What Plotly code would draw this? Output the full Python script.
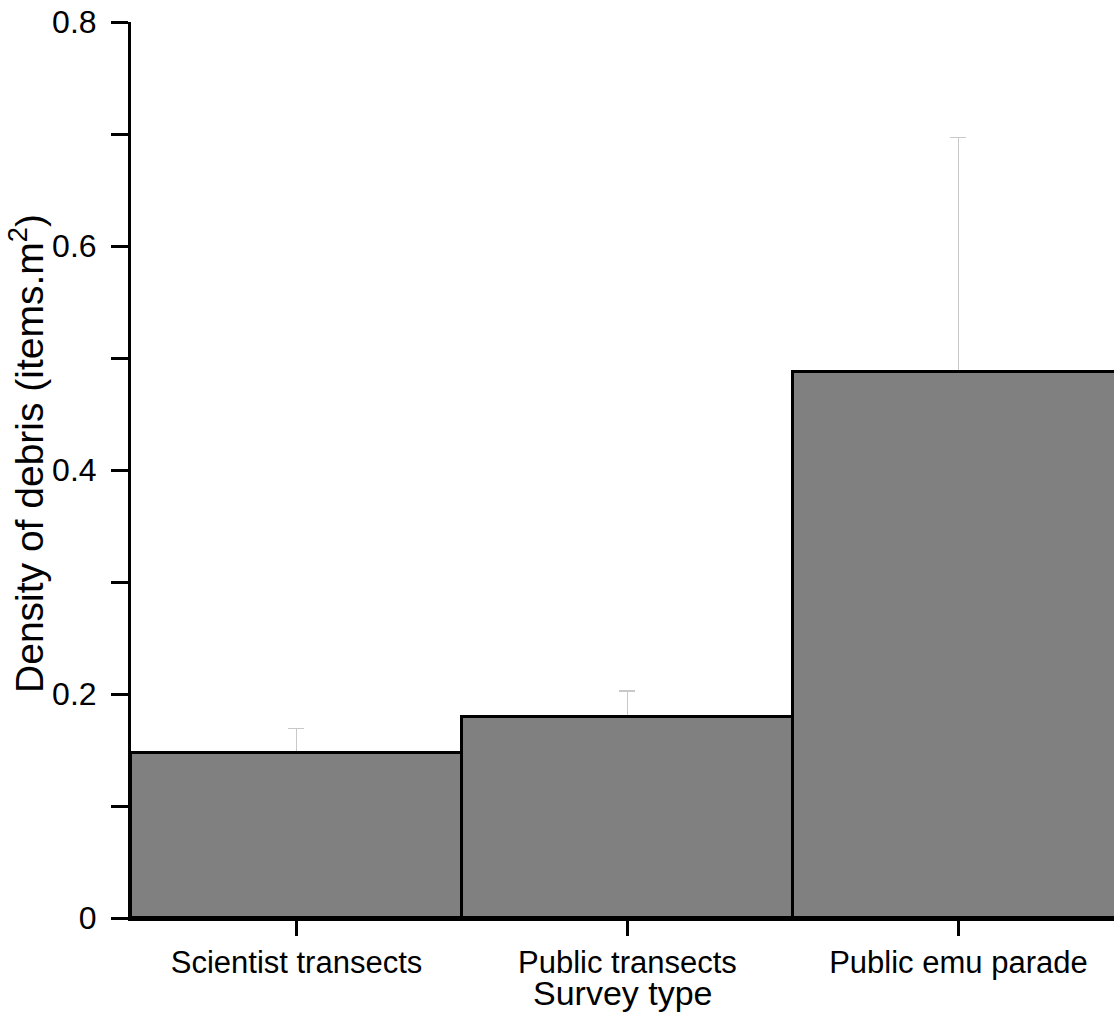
import plotly.graph_objects as go

categories = ["Scientist transects", "Public transects", "Public emu parade"]
density = [0.1476, 0.1797, 0.4875]
error_upper = [0.0217, 0.0230, 0.2092]

y_tickvals = [0, 0.1, 0.2, 0.3, 0.4, 0.5, 0.6, 0.7, 0.8]
y_ticktext = ["0", "", "0.2", "", "0.4", "", "0.6", "", "0.8"]

x_title = "Survey type"
y_title = "Density of debris (items.m<sup>2</sup>)"

FONT = "Liberation Sans, Arial, sans-serif"

fig = go.Figure()
# error bars drawn first (hidden below bar tops by the bars drawn afterwards)
fig.add_trace(go.Bar(
    x=categories,
    y=density,
    width=1.0,
    marker=dict(color="rgba(0,0,0,0)", line=dict(width=0)),
    error_y=dict(type="data", array=error_upper, arrayminus=density, symmetric=False,
                 color="#c8c8c8", thickness=1.5, width=8),
    hoverinfo="skip",
))
fig.add_trace(go.Bar(
    x=categories,
    y=density,
    width=1.0,
    marker=dict(color="#808080", line=dict(color="black", width=3)),
))

fig.update_layout(
    width=1114, height=1021,
    margin=dict(l=131, r=0, t=22, b=103),
    paper_bgcolor="white", plot_bgcolor="white",
    showlegend=False,
    font=dict(family=FONT, color="black", size=32),
    bargap=0,
    barmode="overlay",
    annotations=[
        dict(text=x_title, xref="paper", yref="paper", x=0.5, y=-0.0835,
             xanchor="center", yanchor="middle", showarrow=False,
             font=dict(size=34, family=FONT, color="black")),
        dict(text=y_title, xref="paper", yref="paper", x=-0.1058, y=0.519,
             xanchor="center", yanchor="middle", showarrow=False, textangle=-90,
             font=dict(size=39, family=FONT, color="black")),
    ],
)
fig.update_xaxes(
    type="category",
    range=[-0.5, 2.47],
    showline=True, linecolor="black", linewidth=3,
    ticks="outside", ticklen=15, tickwidth=3, tickcolor="black",
    tickfont=dict(size=31, family=FONT),
    showgrid=False, zeroline=False,
)
fig.update_yaxes(
    range=[0, 0.8],
    tickvals=y_tickvals, ticktext=y_ticktext,
    showline=True, linecolor="black", linewidth=3,
    ticks="outside", ticklen=17, tickwidth=3, tickcolor="black",
    tickfont=dict(size=32, family=FONT),
    ticklabelstandoff=8,
    showgrid=False, zeroline=False,
)

fig.write_html("out.html")
